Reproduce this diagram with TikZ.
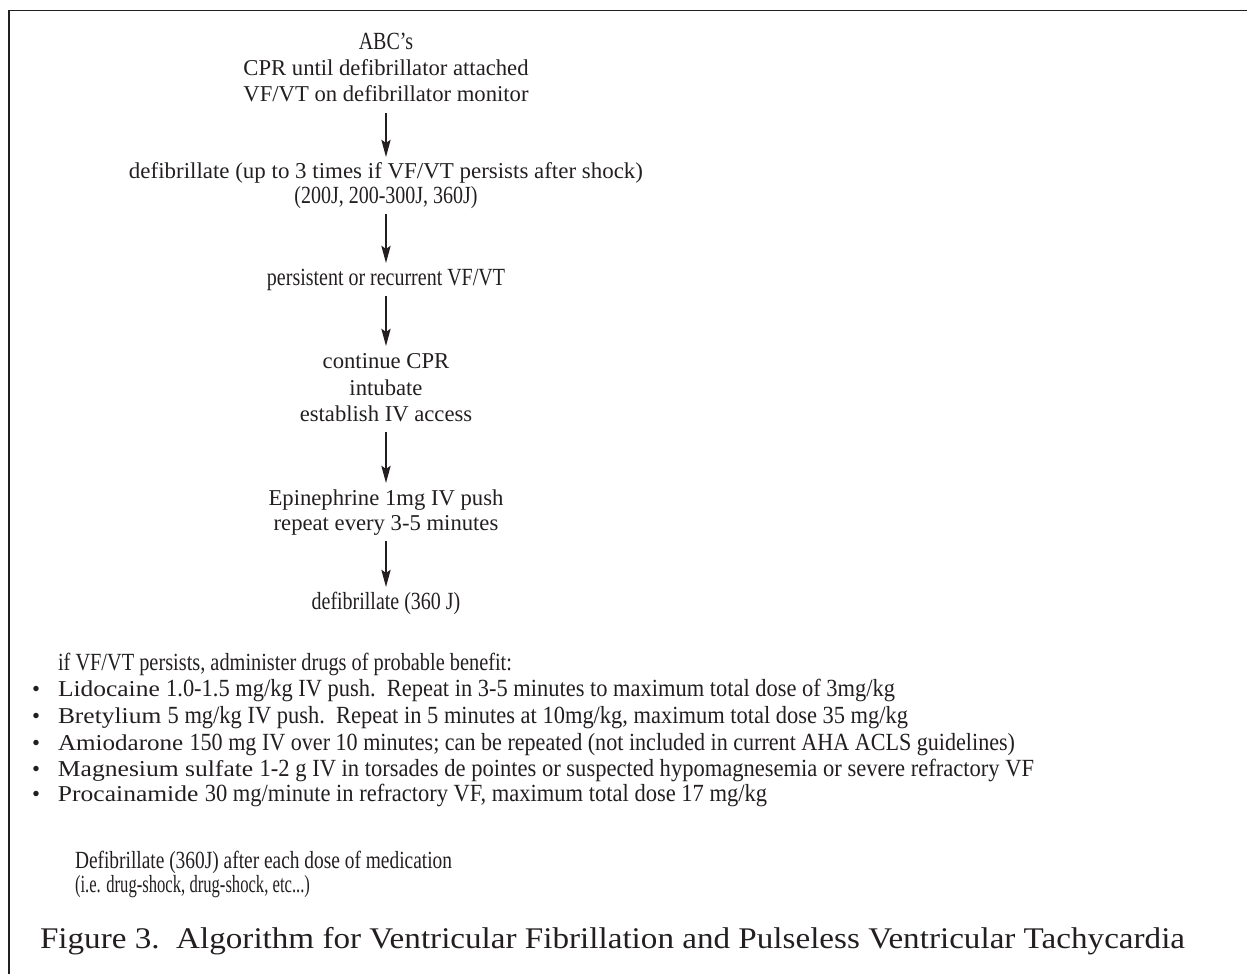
\documentclass[tikz,border=0pt]{standalone}
\usepackage{fontspec}
\usepackage{graphicx}
\setmainfont{Liberation Serif}
\newfontfamily\cndf[FakeStretch=0.81]{Liberation Serif}
\newcommand\cnd{\cndf\fontsize{18.5}{21}\selectfont}
\newfontfamily\wid{Liberation Serif}
\usetikzlibrary{arrows.meta}
\definecolor{ink}{HTML}{231F20}
\newcommand\fitto[2]{\resizebox{#1}{\height}{#2}}
\tikzset{
  txt/.style={inner sep=0pt, outer sep=0pt, text height=12pt, text depth=4pt,
    font=\fontsize{17}{20}\selectfont, text=ink, anchor=base},
  lft/.style={txt, anchor=base west},
  captext/.style={lft, font=\fontsize{22.5}{26}\selectfont, text height=16pt, text depth=5pt},
  arr/.style={draw=ink, line width=0.9pt, -{Stealth[length=13pt,width=7pt,inset=2.5pt]},
    shorten <=4.3pt, shorten >=4.5pt},
  frame/.style={draw=ink, line width=1.4pt}
}
\begin{document}
\begin{tikzpicture}[x=0.75pt, y=-0.75pt]
\useasboundingbox (0,0) rectangle (1247,974);
\draw[frame] (1247,10.5) -- (9,10.5) -- (9,974);

% flow column
\node[txt] (abc) at (386,50) {\cnd ABC’s};
\node[txt] (cpr) at (386,76) {\wid CPR until defibrillator attached};
\node[txt] (vf)  at (386,102) {\wid VF/VT on defibrillator monitor};
\node[txt] (defa) at (386,179) {\fitto{385.5pt}{\wid defibrillate (up to 3 times if VF/VT persists after shock)}};
\node[txt] (defb) at (386,203) {\cnd (200J, 200-300J, 360J)};
\node[txt] (pers) at (386,285) {\cnd persistent or recurrent VF/VT};
\node[txt] (cont) at (386,368) {\wid continue CPR};
\node[txt] (intu) at (386,395) {\wid intubate};
\node[txt] (estb) at (386,421) {\wid establish IV access};
\node[txt] (epi)  at (386,505) {\wid Epinephrine 1mg IV push};
\node[txt] (rep)  at (386,530) {\wid repeat every 3-5 minutes};
\node[txt] (def3) at (386,609) {\cnd defibrillate (360 J)};

\draw[arr] (vf) -- (defa);
\draw[arr] (defb) -- (pers);
\draw[arr] (pers) -- (cont);
\draw[arr] (estb) -- (epi);
\draw[arr] (rep) -- (def3);

% drug list
\node[lft] (ifvf) at (58,670) {\fitto{340.5pt}{\cnd if VF/VT persists, administer drugs of probable benefit:}};
\foreach \n/\yy in {b1/696, b2/723, b3/750, b4/776, b5/801}
  \node[txt] (\n) at (36,\yy) {\wid •};
\node[lft] (lido) at (58,696) {\fitto{627.75pt}{\wid Lidocaine \cnd 1.0-1.5 mg/kg IV push.\ \ Repeat in 3-5 minutes to maximum total dose of 3mg/kg}};
\node[lft] (bret) at (58,723) {\fitto{637.5pt}{\wid Bretylium \cnd 5 mg/kg IV push.\ \ Repeat in 5 minutes at 10mg/kg, maximum total dose 35 mg/kg}};
\node[lft] (amio) at (58,750) {\fitto{717.75pt}{\wid Amiodarone \cnd 150 mg IV over 10 minutes; can be repeated (not included in current AHA ACLS guidelines)}};
\node[lft] (magn) at (58,776) {\fitto{732pt}{\wid Magnesium sulfate \cnd 1-2 g IV in torsades de pointes or suspected hypomagnesemia or severe refractory VF}};
\node[lft] (proc) at (58,801) {\fitto{531.75pt}{\wid Procainamide \cnd 30 mg/minute in refractory VF, maximum total dose 17 mg/kg}};

% footer
\node[lft] (dfa) at (75,868) {\fitto{282.75pt}{\cnd Defibrillate (360J) after each dose of medication}};
\node[lft] (dfb) at (75,892) {\fitto{176.25pt}{\cnd (i.e. drug-shock, drug-shock, etc...)}};

% caption
\node[captext] (fig) at (40,948) {\fitto{858.75pt}{\wid Figure 3.\ \ Algorithm for Ventricular Fibrillation and Pulseless Ventricular Tachycardia}};
\end{tikzpicture}
\end{document}
